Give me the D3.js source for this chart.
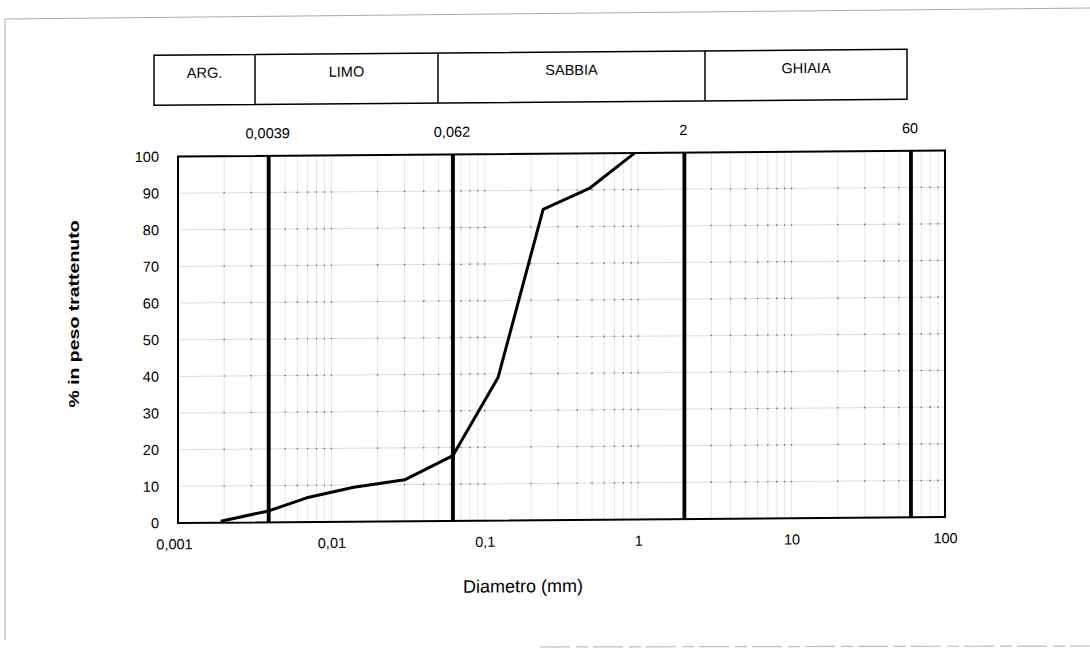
<!DOCTYPE html>
<html><head><meta charset="utf-8">
<script src="https://cdn.jsdelivr.net/npm/d3@7"></script>
<style>body{margin:0;background:#fff;}svg{display:block;font-family:Arial,"Liberation Sans",sans-serif;}</style>
</head><body>
<svg id="c" width="1090" height="650"></svg>
<script>
// Data
const diameters = [0.0019, 0.0039, 0.0069, 0.014, 0.03, 0.062, 0.122, 0.24, 0.48, 0.95];
const retained  = [0.4,    3.1,    6.6,    9.4,   11.3, 17.8,  39.0,  84.8, 90.4, 100];
const xTickValues = [0.001, 0.01, 0.1, 1, 10, 100];
const xTickLabels = ["0,001", "0,01", "0,1", "1", "10", "100"];
const yTickValues = [0, 10, 20, 30, 40, 50, 60, 70, 80, 90, 100];
const limitValues = [0.0039, 0.062, 2, 60];
const limitLabels = ["0,0039", "0,062", "2", "60"];
const classNames = ["ARG.", "LIMO", "SABBIA", "GHIAIA"];

const FONT = "Arial, 'Liberation Sans', sans-serif";
const svg = d3.select("#c");
const L = 178, R = 945, T = 156.5, B = 523;
const x = d3.scaleLog().domain([0.001, 100]).range([L, R]);
const y = d3.scaleLinear().domain([0, 100]).range([B, T]);

// scan frame
svg.append("path").attr("d", "M5,640 L5,19 L1090,8").attr("fill","none").attr("stroke","#aaa").attr("stroke-width",1);
svg.append("line").attr("x1",540).attr("x2",1090).attr("y1",647).attr("y2",646)
  .attr("stroke","#bbb").attr("stroke-width",1.2).attr("stroke-dasharray","30,6,12,5");

// skewed chart group (scan is slightly sheared)
const root = svg.append("g").attr("transform", `translate(${L},0) skewY(-0.45) translate(${-L},0)`);

// minor vertical grid
const minor = [];
for (let e = -3; e < 2; e++) for (let k = 1; k <= 9; k++) { const v = k * Math.pow(10, e); if (v > 0.0011 && v < 99) minor.push(v); }
const g = root.append("g");
g.selectAll("line.vg").data(minor).join("line").attr("class","vg")
  .attr("x1", d => x(d)).attr("x2", d => x(d)).attr("y1", T).attr("y2", B)
  .attr("stroke", "#e6e6e6").attr("stroke-width", 1);
g.selectAll("line.hg").data(yTickValues.slice(1, -1)).join("line").attr("class","hg")
  .attr("x1", L).attr("x2", R).attr("y1", d => y(d)).attr("y2", d => y(d))
  .attr("stroke", "#dedede").attr("stroke-width", 1);
const pts = [];
yTickValues.slice(1, -1).forEach(yy => minor.forEach(xx => pts.push([xx, yy])));
g.selectAll("circle").data(pts).join("circle")
  .attr("cx", d => x(d[0])).attr("cy", d => y(d[1])).attr("r", 0.8).attr("fill", "#666");

// frame
root.append("rect").attr("x", L).attr("y", T).attr("width", R - L).attr("height", B - T)
  .attr("fill", "none").attr("stroke", "#000").attr("stroke-width", 2);

// limit lines
root.selectAll("line.lim").data(limitValues).join("line").attr("class","lim")
  .attr("x1", d => x(d)).attr("x2", d => x(d)).attr("y1", T).attr("y2", B)
  .attr("stroke", "#000").attr("stroke-width", 3.8);
root.selectAll("text.lim").data(limitValues).join("text").attr("class","lim")
  .attr("x", d => x(d) - 1).attr("y", 139).attr("text-anchor","middle").attr("font-size", 14.5)
  .text((d, i) => limitLabels[i]);

// axes labels
const xAxis = d3.axisBottom(x).tickValues(xTickValues).tickFormat((d, i) => xTickLabels[i]).tickSize(0).tickPadding(16);
root.append("g").attr("transform", `translate(0,${B})`).call(xAxis)
  .call(s => s.select(".domain").remove())
  .selectAll("text").attr("font-size", 14.5).attr("font-family", FONT).attr("fill","#000")
  .attr("dx", (d, i) => i === 0 ? -4 : 0);
const yAxis = d3.axisLeft(y).tickValues(yTickValues).tickSize(0).tickPadding(19);
root.append("g").attr("transform", `translate(${L},0)`).call(yAxis)
  .call(s => s.select(".domain").remove())
  .selectAll("text").attr("font-size", 14.5).attr("font-family", FONT).attr("fill","#000");

// curve
const line = d3.line().x(d => x(d[0])).y(d => y(d[1]));
root.append("path").datum(diameters.map((d, i) => [d, retained[i]]))
  .attr("d", line).attr("fill","none").attr("stroke","#000").attr("stroke-width", 3).attr("stroke-linejoin","round");

// class box
const bx = [154, 255, 438, 705, 907];
const by0 = 55, by1 = 105;
root.append("rect").attr("x", bx[0]).attr("y", by0).attr("width", bx[4]-bx[0]).attr("height", by1-by0)
  .attr("fill","none").attr("stroke","#000").attr("stroke-width",1.5);
root.selectAll("line.div").data(bx.slice(1, -1)).join("line").attr("class","div")
  .attr("x1", d => d).attr("x2", d => d).attr("y1", by0).attr("y2", by1).attr("stroke","#000").attr("stroke-width",1.5);
root.selectAll("text.cls").data(classNames).join("text").attr("class","cls")
  .attr("x", (d, i) => (bx[i] + bx[i+1]) / 2).attr("y", 78).attr("text-anchor","middle").attr("font-size", 14.5)
  .text(d => d);

// titles
root.append("text").attr("x", 523).attr("y", 595).attr("text-anchor","middle").attr("font-size", 18).text("Diametro (mm)");
svg.append("text").attr("transform", "translate(79,314) rotate(-90) scale(1.3,1)").attr("text-anchor","middle")
  .attr("font-size", 15).attr("font-weight","bold").text("% in peso trattenuto");
</script>
</body></html>
